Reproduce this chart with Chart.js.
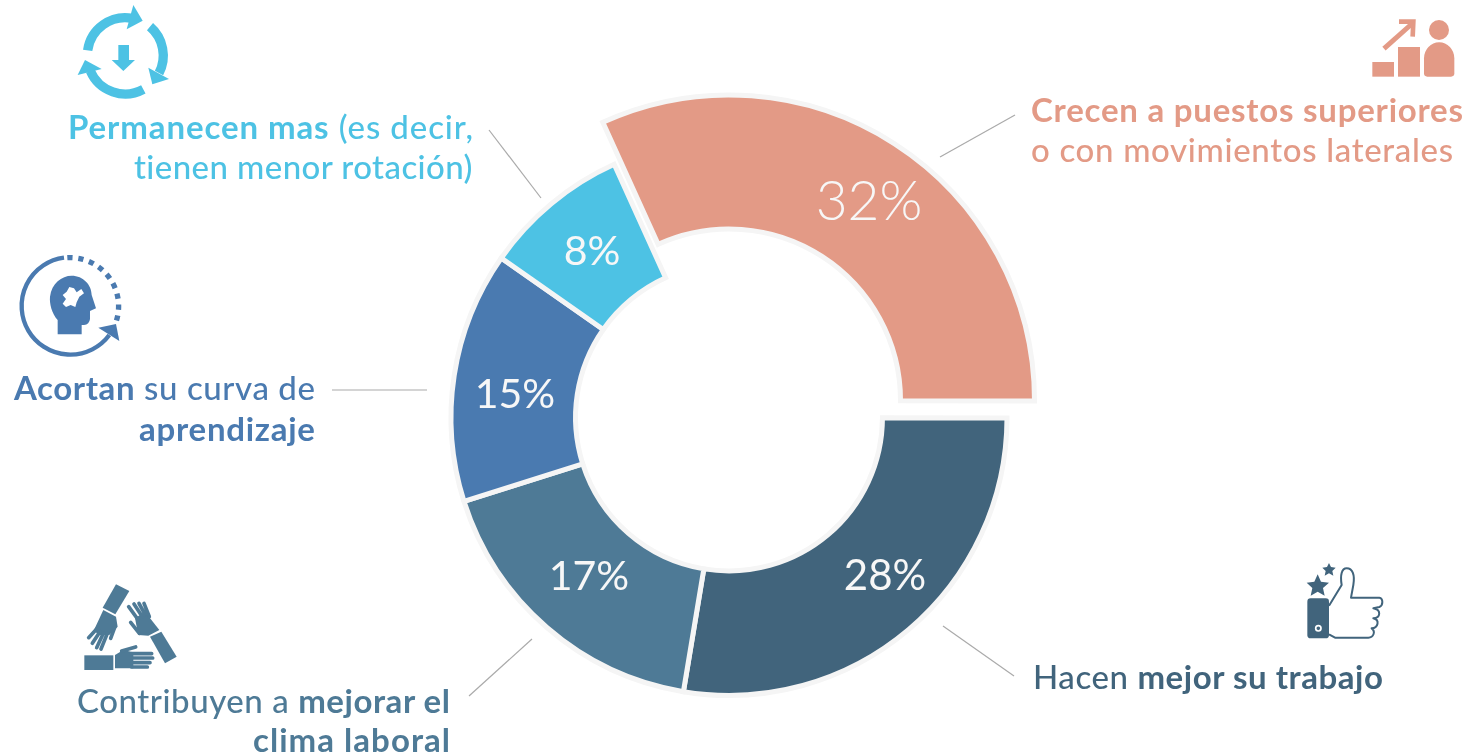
<!DOCTYPE html>
<html><head><meta charset="utf-8">
<script src="https://cdn.jsdelivr.net/npm/chart.js@4/dist/chart.umd.js"></script>
<style>
html,body{margin:0;padding:0;background:#fff;width:1471px;height:756px;overflow:hidden}
#c{position:absolute;left:0;top:0}
#ov{position:absolute;left:0;top:0}
.t{position:absolute;white-space:nowrap;font-family:Lato,sans-serif;font-size:33px;line-height:36px;font-weight:500}
.t b{font-weight:700}
</style></head><body>
<canvas id="c" width="1471" height="756"></canvas>
<svg id="ov" width="1471" height="756" viewBox="0 0 1471 756" xmlns="http://www.w3.org/2000/svg">
<g stroke="#aaaaaa" stroke-width="1.2" fill="none">
<path d="M940 157L1015 115"/><path d="M489 130L541 198"/><path d="M332 390H427"/><path d="M469 696L532 639"/><path d="M943 626L1014 676"/>
</g>
<!-- cycle icon -->
<g transform="translate(60 0) scale(.33333)" fill="#4DC2E4">
<g fill="none" stroke="#4DC2E4" stroke-width="28">
<path d="M83 151A114 114 0 0 1 217 55"/><path d="M270 80A114 114 0 0 1 297 219"/><path d="M250 268A114 114 0 0 1 91 213"/>
</g>
<path d="M220 15L248 62L200 88Z"/><path d="M265 203L327 237L277 253Z"/><path d="M75 180L125 207L53 225Z"/>
<path d="M175 135H207V180H225L190 213L155 180H175Z"/>
</g>
<!-- head icon -->
<g transform="translate(10 245) scale(.33333)" fill="#4A7AB0">
<path d="M162 38A146 146 0 1 0 298 270" fill="none" stroke="#4A7AB0" stroke-width="13"/>
<path d="M172 38A146 146 0 0 1 319 228" fill="none" stroke="#4A7AB0" stroke-width="16" stroke-dasharray="16 17"/>
<path d="M265 248L318 237L328 288Z"/>
<path d="M143 268V225C125 205 118 175 120 155C125 115 155 92 185 92C220 92 245 120 245 150L258 190L240 198V222Q238 238 222 240H215V268Z"/>
<g fill="#fff"><path d="M170 140L178 126L192 130L200 142L214 132L222 145L208 155L200 172L196 186L182 180L168 186L158 176L168 162L158 150Z"/></g>
</g>
<!-- hands icon -->
<g transform="translate(70 575) scale(.33333)" fill="#4E7A96" stroke-linecap="round">
<path d="M138 28L178 48L136 118L98 98Z"/>
<path d="M100 105L138 125L143 155L118 180L85 180L72 165Z"/>
<g stroke="#4E7A96" stroke-width="11" fill="none"><path d="M82 160L56 188M90 170L67 205M100 175L80 218M112 175L93 222M135 155L122 190"/></g>
<path d="M274 170L320 245L285 265L240 185Z"/>
<path d="M268 165L235 182L205 180L195 130L225 110Z"/>
<g stroke="#4E7A96" stroke-width="11" fill="none"><path d="M205 135L176 95M217 125L192 87M225 118L207 85M238 125L222 85M208 175L182 142"/></g>
<rect x="43" y="241" width="87" height="44"/>
<path d="M135 240L160 225L190 232V280H135Z"/>
<g stroke="#4E7A96" stroke-width="11" fill="none"><path d="M185 236H245M185 249H248M185 263H240M185 276H232M155 228L197 216"/></g>
</g>
<!-- thumb icon -->
<g transform="translate(1290 555) scale(.33333)">
<path fill="#41647C" d="M83 58L93 80L117 83L99 99L104 122L83 110L62 122L67 99L50 83L73 80Z"/>
<path fill="#41647C" d="M117 24L123 36L137 38L127 48L130 62L117 55L104 62L107 48L97 38L111 36Z"/>
<rect x="52" y="130" width="65" height="120" rx="10" fill="#41647C"/>
<circle cx="85" cy="220" r="8" fill="none" stroke="#fff" stroke-width="5"/>
<path fill="none" stroke="#41647C" stroke-width="6" stroke-linejoin="round" d="M117 152L155 90C150 60 155 40 170 40C188 40 195 60 190 90L183 128H268C280 130 280 152 268 156L250 160C275 165 272 188 250 190C270 195 265 218 245 220C258 230 250 248 235 248H135L117 238"/>
</g>
<!-- growth icon -->
<g transform="translate(1360 10) scale(.33333)" fill="#E39A86">
<rect x="37" y="156" width="65" height="44"/><rect x="114" y="111" width="66" height="89"/>
<circle cx="237" cy="60" r="30"/>
<path d="M192 185V145A45 48 0 0 1 283 145V190Q283 200 273 200H202Q192 200 192 190Z"/>
<path d="M72 116L155 42" fill="none" stroke="#E39A86" stroke-width="15"/>
<path d="M117 35H160L158 80" fill="none" stroke="#E39A86" stroke-width="14"/>
</g>
</svg>
<div id="labels"></div>
<script>
const categories = ["Crecen a puestos superiores o con movimientos laterales","Hacen mejor su trabajo","Contribuyen a mejorar el clima laboral","Acortan su curva de aprendizaje","Permanecen mas (es decir, tienen menor rotación)"];
const values = [31.8,27.6,17.5,14.6,8.5];
const percentLabels = ["32%","28%","17%","15%","8%"];
const colors = ["#E39A86","#41647C","#4E7A96","#4A7AB0","#4DC2E4"];
const labelFontSizes = [55,42,41,41,41];
const labelWeights = [300,400,400,400,400];
const labelCentres = [[869,202],[885,576],[589,577],[515,395],[592,252]];

const explodePlugin = {
  id:'explode',
  afterUpdate(chart){
    const a = chart.getDatasetMeta(0).data[0];
    a.y -= 17;
    a.outerRadius = 305.5; a.innerRadius = 171.5;
  }
};
const pctPlugin = {
  id:'pct',
  afterDatasetsDraw(chart){
    const ctx = chart.ctx;
    percentLabels.forEach((t,i)=>{
      ctx.save();
      ctx.fillStyle='#f7f7f7';
      ctx.font=labelWeights[i]+' '+labelFontSizes[i]+'px Lato, sans-serif';
      ctx.textAlign='center';ctx.textBaseline='middle';
      ctx.fillText(t,labelCentres[i][0],labelCentres[i][1]);
      ctx.restore();
    });
  }
};
new Chart(document.getElementById('c'),{
  type:'doughnut',
  data:{labels:categories,datasets:[{data:values,backgroundColor:colors,borderColor:'#f5f5f5',borderWidth:5,borderJoinStyle:'miter',hoverOffset:0}]},
  options:{responsive:false,animation:false,events:[],rotation:-24.4,radius:278,cutout:'55.2%',
    layout:{padding:{right:13,top:79,left:0,bottom:0}},
    plugins:{legend:{display:false},tooltip:{enabled:false}}},
  plugins:[explodePlugin,pctPlugin]
});
const lines=[
 {c:0,l:1031,r:1463,y:120,h:'<b>Crecen a puestos superiores</b>'},
 {c:0,l:1031,r:1453,y:160,h:'o con movimientos laterales'},
 {c:4,l:68,r:473,y:137,h:'<b>Permanecen mas</b> (es decir,'},
 {c:4,l:134,r:473,y:177,h:'tienen menor rotación)'},
 {c:3,l:14,r:315,y:398,h:'<b>Acortan</b> su curva de'},
 {c:3,l:139,r:315,y:439,h:'<b>aprendizaje</b>'},
 {c:2,l:77,r:450,y:711,h:'Contribuyen a <b>mejorar el</b>'},
 {c:2,l:253,r:450,y:750,h:'<b>clima laboral</b>'},
 {c:1,l:1033,r:1383,y:687,h:'Hacen <b>mejor su trabajo</b>'}
];
const host=document.getElementById('labels');
lines.forEach(L=>{
  const d=document.createElement('div');d.className='t';d.innerHTML=L.h;d.style.color=colors[L.c];
  d.style.left=L.l+'px';d.style.top=(L.y-29.5)+'px';host.appendChild(d);
  const w=d.getBoundingClientRect().width,n=d.textContent.length;
  d.style.letterSpacing=((L.r-L.l-w)/(n-1))+'px';
});
</script>
</body></html>
